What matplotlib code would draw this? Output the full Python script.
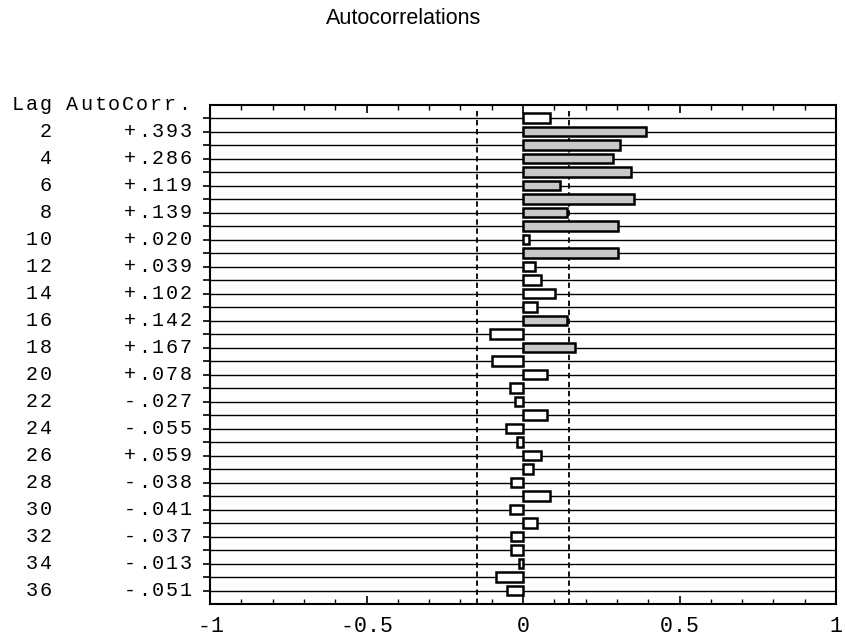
import matplotlib

matplotlib.use("Agg")
import matplotlib.pyplot as plt
from matplotlib.ticker import MultipleLocator
from matplotlib.transforms import IdentityTransform

# ACF values by lag (even lags printed in the reference, odd lags)
lags = list(range(1, 37))
acf = [
    0.085, 0.393, 0.310, 0.286, 0.345, 0.119, 0.354, 0.139, 0.305, 0.020,
    0.303, 0.039, 0.057, 0.102, 0.044, 0.142, -0.105, 0.167, -0.100, 0.078,
    -0.040, -0.027, 0.076, -0.055, -0.019, 0.059, 0.033, -0.038, 0.085, -0.041,
    0.044, -0.037, -0.038, -0.013, -0.087, -0.051,
]
label_lags = lags[1::2]
label_vals = ["+.393", "+.286", "+.119", "+.139", "+.020", "+.039", "+.102",
              "+.142", "+.167", "+.078", "-.027", "-.055", "+.059", "-.038",
              "-.041", "-.037", "-.013", "-.051"]
conf_limit = 0.146
x_ticks = [-1, -0.5, 0, 0.5, 1]
x_tick_labels = ["-1", "-0.5", "0", "0.5", "1"]

W, H = 846, 643
mono = "Liberation Mono"
pitch = 14.0  # typewriter spacing of the scanned labels, px


def spaced_text(fig, x_last, y, s, size, pitch=pitch):
    """Draw *s* one glyph at a time (display px), last glyph centred at x_last."""
    n = len(s)
    for i, ch in enumerate(s):
        if ch == " ":
            continue
        fig.text(x_last - pitch * (n - 1 - i), y, ch, ha="center", va="center",
                 fontfamily=mono, fontsize=size, transform=IdentityTransform())


fig = plt.figure(figsize=(W / 100, H / 100), dpi=100)
ax = fig.add_axes([210 / W, 1 - 604 / H, (836 - 210) / W, (604 - 104.5) / H])

# row lines across the whole panel
ax.hlines(lags, -1, 1, color="black", lw=1.0, zorder=1)

colors = ["#c8c8c8" if abs(v) >= 0.11 else "white" for v in acf]
ax.barh(lags, acf, height=0.72, left=0, color=colors, edgecolor="black",
        linewidth=1.8, zorder=3)

# significance bounds
for c in (-conf_limit, conf_limit):
    ax.vlines(c, 0.5, 37, color="black", lw=1.3, linestyles=(0, (3, 2)), zorder=2)

ax.set_xlim(-1, 1)
ax.set_ylim(37, 0)

ax.set_xticks(x_ticks)
ax.set_xticklabels([])
ax.xaxis.set_minor_locator(MultipleLocator(0.1))
ax.tick_params(axis="x", which="major", direction="in", length=6, width=1.2,
               top=True)
ax.tick_params(axis="x", which="minor", direction="in", length=3.5, width=1.0,
               top=True)

ax.set_yticks(lags)
ax.set_yticklabels([])
ax.tick_params(axis="y", which="major", direction="out", length=5, width=1.2)

for sp in ax.spines.values():
    sp.set_linewidth(1.5)

# x tick labels, spaced like the typewriter font
for t, lab in zip(x_ticks, x_tick_labels):
    px, _ = ax.transData.transform((t, 37))
    x_last = px + 13 * (len(lab) - 1) / 2
    spaced_text(fig, x_last, H - 627, lab, 15.5, pitch=13)

# two-column label block on the left
for lag, txt in zip(label_lags, label_vals):
    _, py = ax.transData.transform((0, lag))
    spaced_text(fig, 46, py, str(lag), 14.5)
    spaced_text(fig, 186, py, txt, 14.5)
spaced_text(fig, 46, H - 104, "Lag", 14.5)
spaced_text(fig, 184, H - 104, "AutoCorr.", 14.5)

fig.text(403.5 / W, 1 - 19 / H, "Autocorrelations", ha="center", va="center",
         fontfamily="Liberation Sans", fontsize=15.5)

fig.savefig("out.png", dpi=100)
plt.close(fig)
